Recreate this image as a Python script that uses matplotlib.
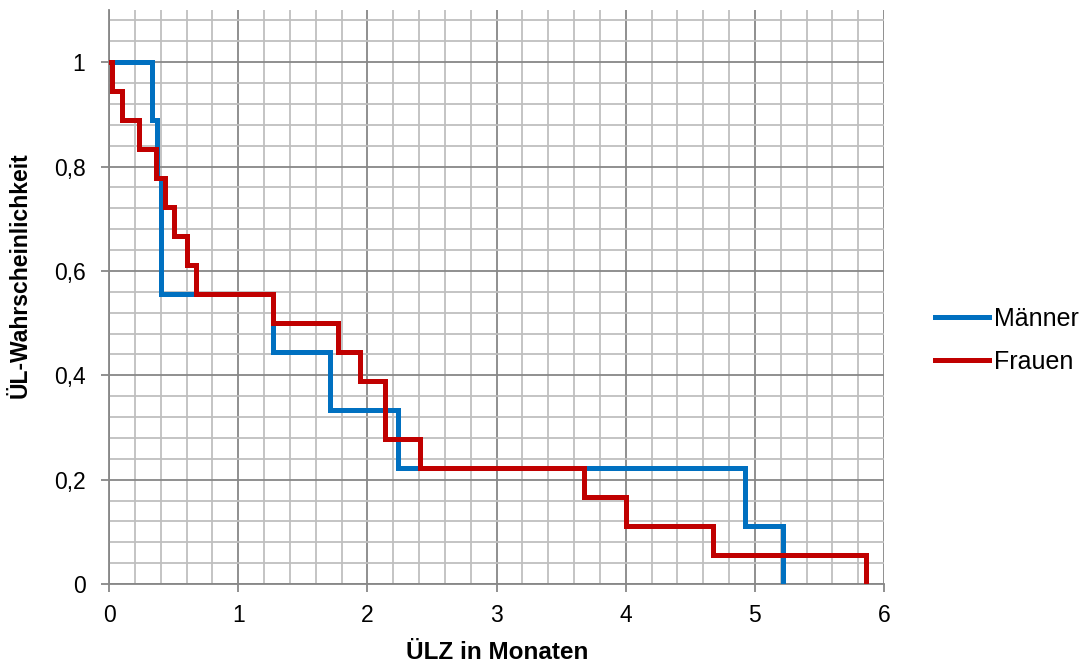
import matplotlib
matplotlib.use("Agg")
import matplotlib.pyplot as plt
from matplotlib.ticker import MultipleLocator, FixedLocator

plt.rcParams['font.family'] = ['Liberation Sans', 'DejaVu Sans']

# Kaplan-Meier step data (time in months, survival probability)
maenner_t = [0, 0.333, 0.37, 0.40, 1.27, 1.71, 2.24, 4.92, 5.22]
maenner_s = [1.0, 0.889, 0.778, 0.556, 0.444, 0.333, 0.222, 0.111, 0.0]

frauen_t = [0, 0.025, 0.098, 0.232, 0.36, 0.433, 0.503, 0.606, 0.67,
            1.27, 1.77, 1.94, 2.14, 2.41, 3.68, 4.0, 4.68, 5.86]
frauen_s = [1.0, 0.944, 0.889, 0.833, 0.778, 0.722, 0.667, 0.611, 0.556,
            0.5, 0.444, 0.389, 0.278, 0.222, 0.167, 0.111, 0.056, 0.0]

x_ticks = [0, 1, 2, 3, 4, 5, 6]
y_ticks = [0, 0.2, 0.4, 0.6, 0.8, 1.0]
y_ticklabels = ["0", "0,2", "0,4", "0,6", "0,8", "1"]

W, H = 1087, 665
fig = plt.figure(figsize=(W/100, H/100), dpi=100)
ax = fig.add_axes([109/W, 1-584/H, (884-109)/W, (584-10)/H])

blue = '#0070C0'
red = '#C00000'
ax.step(maenner_t, maenner_s, where='post', color=blue, lw=3.6, label='Männer',
        solid_joinstyle='miter', zorder=3)
ax.step(frauen_t, frauen_s, where='post', color=red, lw=3.6, label='Frauen',
        solid_joinstyle='miter', zorder=4)

ax.set_xlim(0, 6)
ax.set_ylim(0, 1.1)
ax.xaxis.set_major_locator(FixedLocator(x_ticks))
ax.yaxis.set_major_locator(FixedLocator(y_ticks))
ax.set_yticklabels(y_ticklabels)
ax.xaxis.set_minor_locator(MultipleLocator(0.2))
ax.yaxis.set_minor_locator(MultipleLocator(0.04))

ax.grid(which='major', color='#878787', lw=1.3, zorder=0)
ax.grid(which='minor', color='#bfbfbf', lw=1.3, zorder=0)
ax.set_axisbelow(True)

for s in ['top', 'right']:
    ax.spines[s].set_visible(False)
for s in ['left', 'bottom']:
    ax.spines[s].set_color('#878787')
    ax.spines[s].set_linewidth(1.3)

ax.tick_params(which='major', length=5.5, width=1.3, color='#878787',
               labelsize=16.5)
ax.tick_params(which='minor', length=0)
ax.tick_params(axis='x', pad=8.6)
ax.tick_params(axis='y', pad=11.5)

ax.set_xlabel('ÜLZ in Monaten', fontsize=17.5, fontweight='bold')
ax.xaxis.label.set_verticalalignment('bottom')
ax.xaxis.set_label_coords((497-109)/775, (584-664)/574)

ax.set_ylabel('ÜL-Wahrscheinlichkeit', fontsize=16.5, fontweight='bold')
ax.yaxis.label.set_verticalalignment('center')
ax.yaxis.set_label_coords((20-109)/775, (584-275)/574)

leg = fig.legend(loc='center left', bbox_to_anchor=(935/W, 1-340.5/H),
                 frameon=False, fontsize=18, handlelength=2.16, handletextpad=0.2,
                 labelspacing=0.75, borderpad=0, borderaxespad=0)

fig.savefig('out.png', dpi=100)
